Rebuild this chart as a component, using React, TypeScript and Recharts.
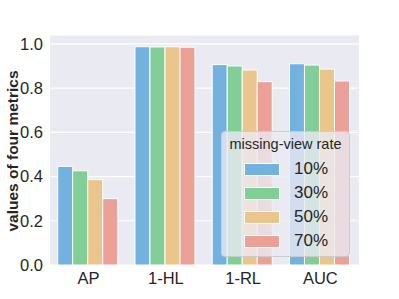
import React from "react";
import { BarChart, Bar, XAxis, YAxis, CartesianGrid, Label } from "recharts";

const metrics = ["AP", "1-HL", "1-RL", "AUC"];
const rates = ["10%", "30%", "50%", "70%"];
const rate10 = [0.446, 0.987, 0.906, 0.91];
const rate30 = [0.426, 0.986, 0.9, 0.904];
const rate50 = [0.386, 0.987, 0.882, 0.886];
const rate70 = [0.3, 0.985, 0.829, 0.832];
const colors = ["#73b1de", "#82ce97", "#ebc68c", "#eca198"];
const yTicks = [0, 0.2, 0.4, 0.6, 0.8, 1.0];

const data = metrics.map((m, i) => ({
	metric: m,
	r10: rate10[i],
	r30: rate30[i],
	r50: rate50[i],
	r70: rate70[i],
}));
const keys = ["r10", "r30", "r50", "r70"];

const font = "'Liberation Sans', Arial, sans-serif";

// legend drawn as overlay, like matplotlib's framed legend
const LegendBox = () => (
	<div
		style={{
			position: "absolute",
			left: 221,
			top: 131,
			width: 129,
			height: 126,
			boxSizing: "border-box",
			background: "rgba(234,234,242,0.8)",
			border: "1px solid #cccccc",
			borderRadius: 4,
			fontFamily: font,
			color: "#262626",
		}}
	>
		<div style={{ position: "absolute", left: 0, width: 127, top: 4, textAlign: "center", fontSize: 14.5 }}>
			missing-view rate
		</div>
		{rates.map((r, i) => (
			<div key={r} style={{ position: "absolute", left: 22, top: 28 + i * 24, height: 18, display: "flex", alignItems: "center" }}>
				<div style={{ width: 34, height: 11, background: colors[i], border: "1px solid #fff" }} />
				<span style={{ marginLeft: 14, fontSize: 17 }}>{r}</span>
			</div>
		))}
	</div>
);

export default function App() {
	return (
		<div style={{ position: "fixed", left: 0, top: 0, width: 399, height: 299, background: "#fff" }}>
			<BarChart
				width={399}
				height={299}
				data={data}
				margin={{ top: 35, right: 40, bottom: 4, left: 0 }}
				barCategoryGap="10%"
				barGap={0}
			>
				<CartesianGrid vertical={false} stroke="#ffffff" strokeWidth={1.2} fill="#eaeaf2" />
				<XAxis
					dataKey="metric"
					axisLine={false}
					tickLine={false}
					tickSize={0}
					tickMargin={7}
					height={30}
					tick={{ fill: "#262626", fontSize: 16.5, fontFamily: font }}
				/>
				<YAxis
					domain={[0, 1.04]}
					ticks={yTicks}
					width={50}
					axisLine={false}
					tickLine={false}
					tickSize={0}
					tickMargin={7}
					tickFormatter={(v: number) => v.toFixed(1)}
					tick={{ fill: "#262626", fontSize: 16.5, fontFamily: font }}
				>
					<Label
						content={() => (
							<text
								x={12}
								y={151}
								transform="rotate(-90 12 151)"
								textAnchor="middle"
								dominantBaseline="central"
								fontSize={15.5}
								fontWeight="bold"
								fontFamily={font}
								fill="#262626"
							>
								values of four metrics
							</text>
						)}
					/>
				</YAxis>
				{keys.map((k, i) => (
					<Bar key={k} dataKey={k} name={rates[i]} fill={colors[i]} stroke="#ffffff" strokeWidth={1} isAnimationActive={false} />
				))}
			</BarChart>
			<LegendBox />
		</div>
	);
}
